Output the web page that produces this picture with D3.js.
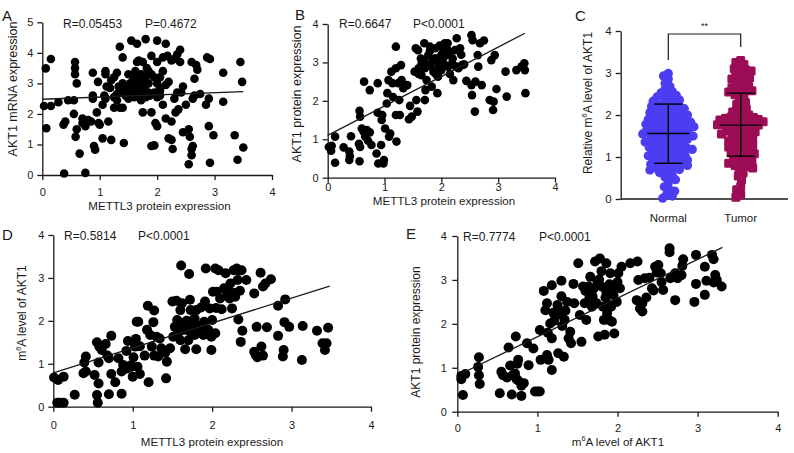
<!DOCTYPE html>
<html><head><meta charset="utf-8">
<script src="https://cdn.jsdelivr.net/npm/d3@7"></script>
<style>
body{margin:0;background:#fff}
svg{display:block}
text{font-family:"Liberation Sans",Arial,Helvetica,sans-serif;fill:#1a1a1a}
</style>
</head><body>
<svg id="c" width="794" height="453"></svg>
<script>
// ---------------- DATA ----------------
const ticks4 = [0,1,2,3,4];
const ticks5 = [0,1,2,3,4,5];
const cCategories = ["Normal","Tumor"];

// Panel A: METTL3 protein (x) vs AKT1 mRNA (y)
const aPoints = [[0.06,3.49],[0.15,3.8],[0.03,2.26],[0.15,2.26],[0.07,1.53],[0.28,2.38],[0.37,1.65],[0.4,1.75],[0.45,2.45],[0.38,0.05],[0.57,3.3],[0.57,3.5],[0.57,3.7],[0.6,3.0],[0.55,2.45],[0.55,2.0],[0.58,1.25],[0.6,1.5],[0.65,0.7],[0.7,1.7],[0.7,1.85],[0.75,1.6],[0.75,0.07],[0.8,1.8],[0.85,1.75],[0.88,2.5],[0.88,2.6],[0.88,3.35],[0.9,0.95],[0.92,0.83],[0.95,2.05],[0.97,3.05],[0.98,1.7],[1.0,1.65],[1.05,1.2],[1.05,2.3],[1.08,2.6],[1.1,3.3],[1.1,3.4],[1.1,2.5],[1.15,1.75],[1.18,2.85],[1.2,1.15],[1.25,2.2],[1.25,3.2],[1.3,2.65],[1.3,3.35],[1.33,2.9],[1.35,2.2],[1.35,4.2],[1.4,3.85],[1.4,2.2],[1.42,1.05],[1.45,2.8],[1.5,3.3],[1.5,2.5],[1.53,3.0],[1.55,4.4],[1.6,2.9],[1.6,3.2],[1.62,3.4],[1.65,4.3],[1.65,3.7],[1.65,2.6],[1.68,2.8],[1.7,3.1],[1.72,2.45],[1.75,3.7],[1.75,2.05],[1.77,3.0],[1.8,4.45],[1.8,3.2],[1.82,3.5],[1.85,2.7],[1.87,2.6],[1.9,3.9],[1.9,3.3],[1.9,2.05],[1.9,0.95],[1.95,0.97],[1.97,1.7],[2.0,4.4],[2.0,3.7],[2.0,3.0],[2.0,1.6],[2.05,3.2],[2.05,2.6],[2.1,3.4],[2.1,2.3],[2.15,1.85],[2.15,4.3],[2.18,3.9],[2.2,3.05],[2.2,1.2],[2.25,1.15],[2.25,1.75],[2.27,0.85],[2.3,3.8],[2.3,2.5],[2.32,2.05],[2.35,3.95],[2.37,2.15],[2.4,4.1],[2.4,3.7],[2.42,2.7],[2.45,1.4],[2.45,2.9],[2.5,2.3],[2.55,1.5],[2.55,0.35],[2.57,1.25],[2.6,3.7],[2.6,0.85],[2.6,0.65],[2.62,0.95],[2.62,2.5],[2.65,2.6],[2.65,3.15],[2.68,3.6],[2.7,3.45],[2.75,2.65],[2.87,3.85],[2.85,2.3],[2.9,2.5],[2.9,1.6],[2.92,3.8],[2.92,0.4],[2.98,1.3],[3.15,3.35],[3.15,2.4],[3.35,1.3],[3.4,0.5],[3.45,3.7],[3.48,3.05],[3.5,0.9],[1.55,2.7],[1.6,2.55],[1.7,2.65],[1.75,2.8],[1.8,2.55],[1.65,3.0],[1.58,3.1],[1.85,3.0],[1.95,3.2],[2.05,2.85],[1.45,2.6],[1.5,2.75],[1.72,3.3],[1.62,2.9],[1.78,2.9],[2.0,2.55],[1.35,2.75],[1.25,2.55],[1.2,3.1],[1.12,2.9],[2.15,2.95],[2.25,3.75],[2.35,2.7],[1.68,3.75],[1.85,3.4],[2.1,3.85],[1.95,2.7],[1.4,3.0],[1.3,2.45],[2.05,2.75]];
const aLine = [[0,2.48],[3.5,2.73]];

// Panel B: METTL3 protein (x) vs AKT1 protein (y)
const bPoints = [[0.07,0.83],[0.02,0.8],[0.06,0.7],[0.13,1.07],[0.13,0.39],[0.28,0.79],[0.38,0.68],[0.39,0.56],[0.41,1.08],[0.38,0.46],[0.56,0.43],[0.55,0.88],[0.57,0.8],[0.57,1.59],[0.56,1.74],[0.6,1.28],[0.63,1.2],[0.66,1.07],[0.64,2.5],[0.69,1.24],[0.71,0.96],[0.74,1.18],[0.74,2.28],[0.77,0.85],[0.88,1.69],[0.88,2.46],[0.86,0.63],[0.89,0.37],[0.94,0.85],[0.95,1.5],[0.96,1.63],[0.98,0.37],[0.99,0.46],[1.01,1.28],[1.04,1.93],[1.05,2.2],[1.07,2.54],[1.08,1.07],[1.1,1.15],[1.12,2.76],[1.14,2.46],[1.15,2.1],[1.2,3.41],[1.2,2.85],[1.2,1.63],[1.21,0.94],[1.24,2.46],[1.26,2.02],[1.27,1.63],[1.29,2.93],[1.3,2.54],[1.33,2.33],[1.36,2.41],[1.4,2.41],[1.43,1.52],[1.45,1.87],[1.48,1.59],[1.53,2.76],[1.55,3.37],[1.56,2.02],[1.58,1.72],[1.59,3.32],[1.6,2.85],[1.64,3.1],[1.65,2.67],[1.7,3.5],[1.71,2.85],[1.71,2.02],[1.72,2.28],[1.74,2.54],[1.77,3.19],[1.8,3.41],[1.81,2.93],[1.83,2.37],[1.86,2.76],[1.89,3.37],[1.89,3.11],[1.93,2.2],[1.94,2.63],[1.97,3.02],[1.97,3.44],[2.0,2.8],[2.03,3.11],[2.06,3.5],[2.09,3.19],[2.11,3.5],[2.12,2.89],[2.15,3.24],[2.19,2.98],[2.21,2.54],[2.24,3.32],[2.27,3.63],[2.3,2.85],[2.33,3.37],[2.36,2.93],[2.44,2.52],[2.53,3.71],[2.53,2.41],[2.54,2.15],[2.55,3.58],[2.59,1.72],[2.6,2.5],[2.64,3.19],[2.65,2.89],[2.68,3.5],[2.71,2.41],[2.75,3.57],[2.85,2.02],[2.88,3.06],[2.91,1.76],[2.92,1.98],[2.94,3.19],[2.97,2.31],[3.15,2.11],[3.13,2.76],[3.32,2.8],[3.41,2.89],[3.46,2.98],[3.47,2.8],[3.48,2.2],[1.75,2.9],[1.85,3.05],[1.9,2.7],[2.0,3.2],[2.05,2.95],[2.15,2.7],[2.2,3.1],[1.65,2.95],[1.95,2.9],[2.1,3.35],[1.6,2.7],[2.25,2.9],[2.35,3.2],[2.4,2.95],[1.8,3.3],[2.0,3.4],[1.7,3.05]];
const bLine = [[0,1.1],[3.47,3.76]];

// Panel C: relative m6A level of AKT1
const normalValues = [0.02,0.07,0.11,0.19,0.23,0.29,0.38,0.46,0.52,0.57,0.63,0.64,0.69,0.7,0.74,0.75,0.78,0.8,0.81,0.83,0.86,0.87,0.9,0.93,0.95,0.98,1.0,1.03,1.04,1.07,1.1,1.12,1.13,1.17,1.18,1.2,1.22,1.23,1.26,1.28,1.3,1.31,1.34,1.36,1.37,1.4,1.42,1.43,1.46,1.48,1.5,1.51,1.53,1.55,1.57,1.58,1.61,1.62,1.64,1.67,1.69,1.7,1.72,1.74,1.76,1.78,1.8,1.81,1.83,1.85,1.87,1.88,1.9,1.93,1.95,1.97,2.0,2.01,2.04,2.06,2.08,2.1,2.13,2.15,2.18,2.2,2.22,2.25,2.27,2.3,2.33,2.36,2.38,2.41,2.43,2.47,2.5,2.53,2.56,2.62,2.68,2.75,2.86,2.93,2.99,1.15,1.45,1.65,1.85,1.25,1.55,2.12,0.85,1.05,1.38,1.72,1.92,2.02,2.24,0.72,0.96,1.6,1.78];
const tumorValues = [0.04,0.1,0.22,0.3,0.45,0.55,0.62,0.7,0.74,0.78,0.8,0.82,0.85,0.88,0.9,0.95,0.99,1.02,1.05,1.08,1.1,1.14,1.18,1.2,1.24,1.27,1.3,1.33,1.36,1.4,1.42,1.45,1.48,1.5,1.53,1.55,1.58,1.6,1.62,1.64,1.66,1.68,1.7,1.73,1.76,1.78,1.8,1.82,1.84,1.86,1.88,1.9,1.92,1.95,1.97,2.0,2.03,2.07,2.1,2.15,2.2,2.25,2.3,2.36,2.42,2.48,2.52,2.55,2.58,2.62,2.65,2.68,2.7,2.74,2.78,2.82,2.86,2.9,2.95,3.0,3.05,3.1,3.15,3.2,3.25,3.3,1.12,1.38,1.57,1.77,1.94,2.6,2.88,3.08,0.92,1.25,1.85,1.81,1.89];
const cMean = [1.56, 1.76];
const cSdLow = [0.85, 1.02];
const cSdHigh = [2.26, 2.52];

// Panel D: METTL3 protein (x) vs m6A level of AKT1 (y)
const dPoints = [[0.01,0.68],[0.06,0.62],[0.13,0.7],[0.05,0.09],[0.08,0.09],[0.13,0.09],[0.27,0.28],[0.38,0.78],[0.39,1.03],[0.41,1.17],[0.41,0.82],[0.52,0.74],[0.55,0.27],[0.56,0.09],[0.57,0.54],[0.57,1.03],[0.55,1.5],[0.58,1.4],[0.61,1.32],[0.66,1.46],[0.68,1.19],[0.7,1.13],[0.7,0.29],[0.73,0.76],[0.73,1.65],[0.78,0.57],[0.82,1.13],[0.86,0.3],[0.86,0.82],[0.88,0.97],[0.9,0.89],[0.92,1.3],[0.93,0.89],[0.97,0.96],[0.99,0.93],[0.94,1.53],[1.01,1.15],[1.0,0.7],[1.03,1.4],[1.04,1.58],[1.05,1.98],[1.06,0.93],[1.07,1.98],[1.09,0.76],[1.09,1.41],[1.15,1.19],[1.18,1.79],[1.19,2.35],[1.2,0.57],[1.22,1.67],[1.24,1.4],[1.26,1.97],[1.27,2.24],[1.27,1.19],[1.3,1.63],[1.32,1.17],[1.34,1.59],[1.36,1.36],[1.41,1.26],[1.42,0.66],[1.43,1.05],[1.47,1.36],[1.5,2.45],[1.51,1.63],[1.53,1.86],[1.55,2.47],[1.56,2.02],[1.57,1.71],[1.6,1.55],[1.61,3.29],[1.6,2.25],[1.62,2.41],[1.64,1.79],[1.66,1.34],[1.7,1.86],[1.7,1.55],[1.71,3.09],[1.72,2.49],[1.73,2.25],[1.75,1.83],[1.76,2.02],[1.78,1.67],[1.8,1.34],[1.8,2.25],[1.84,1.88],[1.86,2.31],[1.89,1.67],[1.9,1.98],[1.91,2.45],[1.92,3.22],[1.95,1.79],[1.97,2.29],[1.99,1.63],[1.99,1.32],[2.0,2.02],[2.01,2.68],[2.04,1.71],[2.04,3.22],[2.06,2.68],[2.08,3.18],[2.1,2.52],[2.12,2.27],[2.15,2.76],[2.17,3.11],[2.19,2.63],[2.22,2.52],[2.23,2.87],[2.25,2.29],[2.27,3.18],[2.29,2.56],[2.31,3.22],[2.32,2.95],[2.33,2.03],[2.34,3.17],[2.35,2.7],[2.36,1.51],[2.37,3.18],[2.38,1.77],[2.43,2.95],[2.53,2.64],[2.53,1.28],[2.55,1.2],[2.57,1.15],[2.56,1.86],[2.61,3.12],[2.62,1.4],[2.64,1.19],[2.64,2.8],[2.67,2.87],[2.69,1.85],[2.74,2.97],[2.83,2.35],[2.83,1.65],[2.89,1.17],[2.9,1.32],[2.92,2.5],[2.91,1.97],[2.97,1.86],[3.13,1.09],[3.14,1.88],[3.32,1.77],[3.39,1.48],[3.42,1.32],[3.44,1.48],[3.46,1.84],[1.65,1.95],[1.72,1.75],[1.8,1.9],[1.85,1.75],[1.68,2.0],[1.78,2.05],[1.62,1.85],[1.88,1.85],[1.93,1.7],[1.58,1.95],[2.05,2.3],[2.2,2.75],[2.28,2.65]];
const dLine = [[0,0.79],[3.48,2.81]];

// Panel E: m6A level of AKT1 (x) vs AKT1 protein (y)
const ePoints = [[0.05,0.81],[0.05,0.74],[0.07,0.38],[0.1,0.86],[0.26,1.02],[0.27,1.24],[0.27,0.83],[0.28,0.63],[0.53,0.42],[0.55,0.91],[0.57,0.83],[0.62,0.78],[0.64,1.46],[0.66,1.05],[0.68,0.39],[0.69,0.83],[0.72,0.87],[0.73,1.71],[0.75,1.09],[0.76,1.18],[0.74,0.74],[0.76,0.71],[0.8,0.59],[0.8,0.36],[0.83,0.65],[0.87,1.56],[0.89,1.06],[0.95,1.44],[0.97,0.46],[1.0,0.46],[1.03,0.46],[1.03,1.86],[1.04,1.18],[1.08,2.75],[1.1,2.31],[1.12,2.47],[1.12,1.29],[1.13,1.8],[1.14,1.18],[1.16,2.01],[1.18,2.88],[1.18,1.67],[1.18,0.95],[1.21,2.07],[1.25,2.43],[1.26,1.33],[1.28,2.31],[1.3,2.2],[1.3,2.98],[1.3,2.63],[1.31,1.95],[1.33,1.25],[1.34,2.09],[1.37,2.5],[1.39,1.67],[1.41,1.82],[1.42,1.56],[1.45,2.91],[1.46,2.47],[1.51,3.38],[1.53,2.2],[1.55,1.59],[1.57,2.85],[1.59,2.47],[1.61,2.09],[1.64,2.85],[1.66,3.07],[1.68,2.39],[1.69,2.62],[1.72,3.42],[1.74,2.47],[1.76,1.71],[1.77,3.01],[1.78,3.49],[1.8,2.85],[1.82,2.39],[1.83,2.09],[1.84,1.75],[1.86,2.73],[1.86,3.38],[1.87,2.24],[1.89,2.09],[1.91,3.15],[1.92,2.39],[1.93,2.05],[1.95,2.77],[1.96,1.78],[1.99,2.5],[2.01,3.15],[2.03,2.81],[2.05,3.3],[2.16,3.38],[2.25,3.42],[2.24,2.54],[2.26,3.0],[2.28,2.35],[2.31,2.28],[2.31,2.47],[2.34,3.04],[2.36,2.6],[2.43,2.81],[2.45,2.76],[2.47,3.3],[2.49,3.17],[2.51,3.34],[2.54,3.15],[2.57,2.77],[2.65,3.72],[2.65,3.63],[2.66,3.04],[2.72,2.54],[2.72,3.15],[2.75,3.04],[2.8,3.11],[2.82,3.47],[2.81,3.32],[2.96,2.5],[2.98,3.57],[2.98,2.91],[3.09,2.66],[3.09,3.3],[3.11,2.98],[3.18,3.57],[3.2,3.47],[3.22,3.11],[3.2,2.94],[3.24,3.0],[3.3,2.85],[1.7,2.8],[1.75,2.95],[1.85,2.6],[1.9,2.9],[1.65,2.6],[1.95,2.65],[1.8,3.2],[2.0,2.95],[1.6,2.75],[1.88,2.45],[2.4,3.05],[2.55,2.95],[1.35,2.3],[1.2,2.25]];
const eLine = [[0.05,0.87],[3.31,3.74]];

// ---------------- DRAW ----------------
const svg = d3.select("#c");
const INK = "#1a1a1a";

function styleAxis(sel, fs) {
  sel.selectAll("path,line").attr("stroke", INK).attr("stroke-width", 1.3);
  sel.selectAll("text").attr("font-size", fs).attr("fill", INK)
     .attr("font-family", '"Liberation Sans",Arial,sans-serif');
}

function richText(parent, parts, fs) {
  const t = parent.append("text").attr("font-size", fs);
  let shift = 0;
  parts.forEach(p => {
    const ts = t.append("tspan").text(p.t);
    if (p.sup) {
      ts.attr("font-size", fs * 0.62).attr("dy", -fs * 0.42);
      shift = fs * 0.42;
    } else if (shift) {
      ts.attr("dy", shift);
      shift = 0;
    }
  });
  return t;
}

function scatter(cfg) {
  const g = svg.append("g");
  const x = d3.scaleLinear().domain(cfg.xdom).range(cfg.xr);
  const y = d3.scaleLinear().domain(cfg.ydom).range(cfg.yr);
  const gx = g.append("g").attr("transform", `translate(0,${cfg.yr[0]})`)
    .call(d3.axisBottom(x).tickValues(cfg.xticks).tickSize(5).tickSizeOuter(0).tickPadding(cfg.xpad).tickFormat(d3.format("d")));
  styleAxis(gx, 11);
  const gy = g.append("g").attr("transform", `translate(${cfg.xr[0]},0)`)
    .call(d3.axisLeft(y).tickValues(cfg.yticks).tickSize(5).tickSizeOuter(0).tickPadding(cfg.ypad).tickFormat(d3.format("d")));
  styleAxis(gy, 11);
  g.append("g").selectAll("circle").data(cfg.pts).join("circle")
    .attr("cx", d => x(d[0])).attr("cy", d => y(d[1])).attr("r", cfg.r).attr("fill", "#000");
  g.append("line")
    .attr("x1", x(cfg.line[0][0])).attr("y1", y(cfg.line[0][1]))
    .attr("x2", x(cfg.line[1][0])).attr("y2", y(cfg.line[1][1]))
    .attr("stroke", INK).attr("stroke-width", 1.3);
  g.append("text").attr("x", cfg.rPos[0]).attr("y", cfg.rPos[1]).attr("font-size", 12).text(cfg.rText);
  g.append("text").attr("x", cfg.pX).attr("y", cfg.rPos[1]).attr("font-size", 12).text(cfg.pText);
  g.append("text").attr("x", cfg.letterPos[0]).attr("y", cfg.letterPos[1]).attr("font-size", 15).text(cfg.letter);
  richText(g, cfg.xlabel, 11.6).attr("x", cfg.xlabPos[0]).attr("y", cfg.xlabPos[1]).attr("text-anchor", "middle");
  richText(g, cfg.ylabel, cfg.ylabFs).attr("text-anchor", "middle")
    .attr("transform", `translate(${cfg.ylabPos[0]},${cfg.ylabPos[1]}) rotate(-90)`);
}

const METTL3 = [{t:"METTL3 protein expression"}];
const M6A = [{t:"m"},{t:"6",sup:true},{t:"A level of AKT1"}];

scatter({xdom:[0,4], ydom:[0,5], xr:[42.3,272], yr:[175,22.3], xticks:ticks4, yticks:ticks5, xpad:8, ypad:4,
  pts:aPoints, line:aLine, r:4.3, rText:"R=0.05453", pText:"P=0.4672", rPos:[63,27.5], pX:145,
  letter:"A", letterPos:[2,20.5], xlabel:METTL3, xlabPos:[159.5,210], ylabel:[{t:"AKT1 mRNA expression"}], ylabFs:12.5, ylabPos:[17,89]});

scatter({xdom:[0,4], ydom:[0,4], xr:[327.7,555], yr:[177.7,24], xticks:ticks4, yticks:ticks4, xpad:1, ypad:4,
  pts:bPoints, line:bLine, r:4.3, rText:"R=0.6647", pText:"P<0.0001", rPos:[339,27.5], pX:413,
  letter:"B", letterPos:[295,20], xlabel:METTL3, xlabPos:[444,204.5], ylabel:[{t:"AKT1 protein expression"}], ylabFs:12.5, ylabPos:[301,94]});

scatter({xdom:[0,4], ydom:[0,4], xr:[53.3,371], yr:[406.7,235], xticks:ticks4, yticks:ticks4, xpad:10, ypad:4,
  pts:dPoints, line:dLine, r:5, rText:"R=0.5814", pText:"P<0.0001", rPos:[64,239.5], pX:138,
  letter:"D", letterPos:[2,239.5], xlabel:METTL3, xlabPos:[212,446], ylabel:M6A, ylabFs:12, ylabPos:[26,313]});

scatter({xdom:[0,4], ydom:[0,4], xr:[457.3,777.7], yr:[411.7,236], xticks:ticks4, yticks:ticks4, xpad:8, ypad:5.5,
  pts:ePoints, line:eLine, r:5, rText:"R=0.7774", pText:"P<0.0001", rPos:[463,241], pX:539,
  letter:"E", letterPos:[406,238.5], xlabel:M6A, xlabPos:[618,446], ylabel:[{t:"AKT1 protein expression"}], ylabFs:12, ylabPos:[420,332]});

// ---------- Panel C ----------
(function(){
  const g = svg.append("g");
  const y = d3.scaleLinear().domain([0,4]).range([199,31]);
  const x = d3.scalePoint().domain(cCategories).range([668.3,740.7]);
  const gy = g.append("g").attr("transform","translate(620.7,0)")
    .call(d3.axisLeft(y).tickValues(ticks4).tickSize(5).tickSizeOuter(0).tickPadding(4).tickFormat(d3.format("d")));
  styleAxis(gy, 11.5);
  g.append("line").attr("x1",620.7).attr("x2",788).attr("y1",199).attr("y2",199).attr("stroke",INK).attr("stroke-width",1.3);
  cCategories.forEach(c => g.append("text").attr("x", x(c)).attr("y", 221.5).attr("text-anchor","middle").attr("font-size",11.5).text(c));

  function swarm(vals, cx, minD) {
    const pts = vals.map(v => ({v, py: y(v)})).sort((a,b) => a.py - b.py);
    const placed = [];
    pts.forEach(p => {
      for (let k = 0; k < 200; k++) {
        const off = (k % 2 === 0 ? 1 : -1) * Math.ceil(k / 2) * 0.8;
        const px = cx + off;
        let ok = true;
        for (const q of placed) {
          if (Math.abs(q.py - p.py) < minD && Math.hypot(q.px - px, q.py - p.py) < minD) { ok = false; break; }
        }
        if (ok) { p.px = px; break; }
      }
      placed.push(p);
    });
    return placed;
  }
  const nPts = swarm(normalValues, x("Normal"), 5.4);
  const tPts = swarm(tumorValues, x("Tumor"), 5.2);
  g.append("g").selectAll("circle").data(nPts).join("circle")
    .attr("cx", d => d.px).attr("cy", d => d.py).attr("r", 4.6).attr("fill", "#4b3df2");
  g.append("g").selectAll("rect").data(tPts).join("rect")
    .attr("x", d => d.px - 4.5).attr("y", d => d.py - 4.5).attr("width", 9).attr("height", 9).attr("rx", 1.5).attr("fill", "#9c0d55");

  cCategories.forEach((c, i) => {
    const cx = x(c);
    g.append("line").attr("x1",cx).attr("x2",cx).attr("y1",y(cSdLow[i])).attr("y2",y(cSdHigh[i])).attr("stroke","#000").attr("stroke-width",1.4);
    g.append("line").attr("x1",cx-21).attr("x2",cx+21).attr("y1",y(cMean[i])).attr("y2",y(cMean[i])).attr("stroke","#000").attr("stroke-width",1.4);
    [cSdLow[i], cSdHigh[i]].forEach(v => g.append("line").attr("x1",cx-14).attr("x2",cx+14).attr("y1",y(v)).attr("y2",y(v)).attr("stroke","#000").attr("stroke-width",1.4));
  });
  const x1 = x("Normal"), x2 = x("Tumor");
  g.append("path").attr("d", `M${x1},60V34H${x2}V47`).attr("fill","none").attr("stroke",INK).attr("stroke-width",1.2);
  g.append("text").attr("x",(x1+x2)/2).attr("y",29).attr("text-anchor","middle").attr("font-size",9).text("**");
  g.append("text").attr("x",575).attr("y",20.5).attr("font-size",15).text("C");
  richText(g, [{t:"Relative m"},{t:"6",sup:true},{t:"A level of AKT1"}], 12).attr("text-anchor","middle")
    .attr("transform","translate(592,103) rotate(-90)");
})();
</script>
</body></html>
